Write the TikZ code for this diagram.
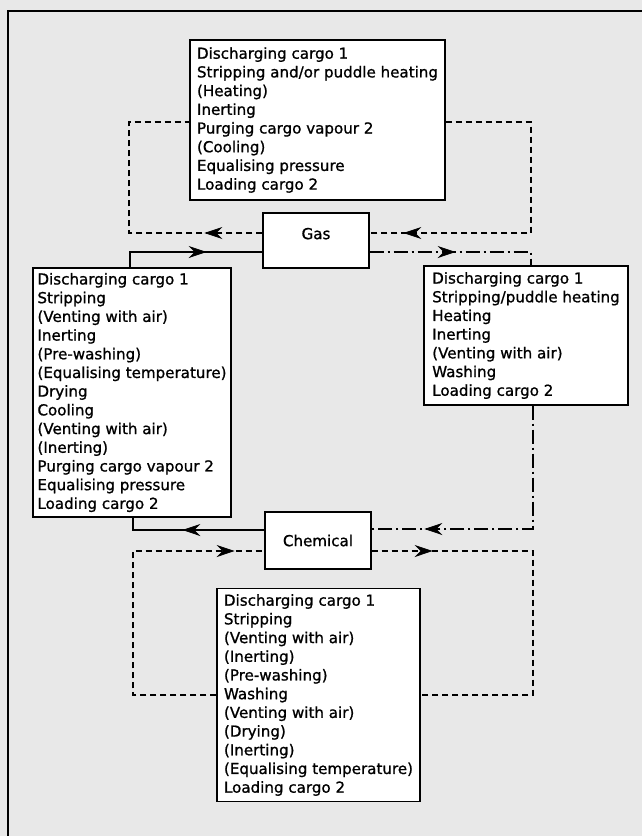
\documentclass[tikz,border=0pt]{standalone}
\usepackage{fontspec}
\setmainfont{DejaVu Sans}
\newfontfamily\diafont{DejaVu Sans}[FakeBold=1]
\usetikzlibrary{arrows.meta,decorations.markings}
\definecolor{bgcol}{RGB}{232,232,232}
\begin{document}
\begin{tikzpicture}[x=1pt,y=-1pt,
  procbox/.style={draw, line width=1.4pt, fill=white, align=left, inner sep=0pt,
    font=\diafont\fontsize{15.1}{18.7}\selectfont},
  solidB/.style={line width=1.3pt},
  dashB/.style={line width=1.3pt, dash pattern=on 6pt off 4pt},
  dotdashB/.style={line width=1.3pt, dash pattern=on 14pt off 4pt on 2pt off 4pt},
  arrowat/.style={postaction={decorate}, decoration={markings,
    mark=at position #1 with {\arrow[line width=0.8pt]{Stealth[length=18pt,width=12pt,inset=6pt]}}}},
]
\useasboundingbox (0,0) rectangle (642,836);
\fill[bgcol] (0,0) rectangle (642,836);
\draw[line width=2pt] (8,836) -- (8,11) -- (642,11);

% boxes
\node[procbox, minimum width=255pt, minimum height=160pt] (top) at (317.5,120)
 {Discharging cargo 1\\Stripping and/or puddle heating\\(Heating)\\Inerting\\Purging cargo vapour 2\\(Cooling)\\Equalising pressure\\Loading cargo 2};
\node[procbox, minimum width=106pt, minimum height=55pt] (gas) at (316,240.5) {\raisebox{14pt}{Gas}};
\node[procbox, minimum width=198pt, minimum height=249pt] (left) at (132,392.5)
 {Discharging cargo 1\\Stripping\\(Venting with air)\\Inerting\\(Pre-washing)\\(Equalising temperature)\\Drying\\Cooling\\(Venting with air)\\(Inerting)\\Purging cargo vapour 2\\Equalising pressure\\Loading cargo 2};
\node[procbox, minimum width=204pt, minimum height=139pt] (right) at (526,335.5)
 {Discharging cargo 1\\Stripping/puddle heating\\Heating\\Inerting\\(Venting with air)\\Washing\\Loading cargo 2};
\node[procbox, minimum width=106pt, minimum height=57pt] (chem) at (318,540.5) {Chemical};
\node[procbox, minimum width=203pt, minimum height=213pt] (bot) at (318.5,695)
 {Discharging cargo 1\\Stripping\\(Venting with air)\\(Inerting)\\(Pre-washing)\\Washing\\(Venting with air)\\(Drying)\\(Inerting)\\(Equalising temperature)\\Loading cargo 2};

% corner coordinates
\coordinate (c1) at (129,233);
\coordinate (c2) at (531,233);
\coordinate (c3) at (133,551);
\coordinate (c4) at (533,695);

% connectors
\draw[dashB, arrowat=58pt] ([yshift=7.5pt]gas.west) -- (c1) |- ([yshift=-2pt]top.west);
\draw[dashB, arrowat=324pt] ([yshift=-2pt]top.east) -| (c2) -- ([yshift=7.5pt]gas.east);
\draw[solidB, arrowat=92pt] ([xshift=-2pt]left.north) |- ([yshift=-11.5pt]gas.west);
\draw[dotdashB, arrowat=86pt] ([yshift=-11.5pt]gas.east) -| ([xshift=5pt]right.north);
\draw[dotdashB, arrowat=232pt] ([xshift=7pt]right.south) |- ([yshift=11.5pt]chem.east);
\draw[solidB, arrowat=82pt] ([yshift=10.5pt]chem.west) -| ([xshift=1pt]left.south);
\draw[dashB, arrowat=329pt] (bot.west) -| (c3) -- ([yshift=-10.5pt]chem.west);
\draw[dashB, arrowat=61pt] ([yshift=-10.5pt]chem.east) -| (c4) -- (bot.east);
\end{tikzpicture}
\end{document}
